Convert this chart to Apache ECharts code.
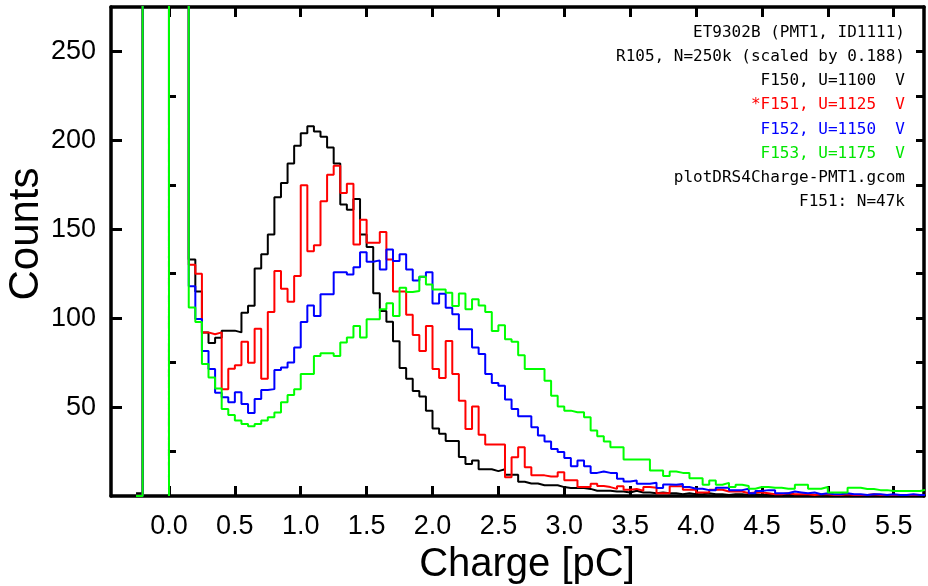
<!DOCTYPE html>
<html>
<head>
<meta charset="utf-8">
<script src="https://cdn.jsdelivr.net/npm/echarts@6/dist/echarts.min.js"></script>
<style>html,body{margin:0;padding:0;background:#fff}#c{width:928px;height:586px}</style>
</head>
<body>
<div id="c"></div>
<script>
// ---- data ----
const binStart = 0.15;     // lower edge of first regular bin [pC]
const binWidth = 0.05;     // bin width [pC]
const offScale = 3000;     // pedestal counts (far above the axis, clipped)
const pedEdges = [-0.25, -0.2, 0.0, 0.0, 0.15];
const pedF150 = [1.5, offScale, 0, offScale];
const pedF151 = [0, offScale, 0, offScale];
const pedF152 = [0, offScale, 0, offScale];
const pedF153 = [0, offScale, 0, offScale];

const f150 = [133,115,92,86,89,93,93,92,103,107,128,136,147,168,176,187,197,204,208,205,
  202,196,187,164,161,167,147,140,114,104,98,87,72,66,59,56,48,38,35,31,
  31,22,18,20,15,15,14,15,12,12,8,7,7,6,6,6,5,4.5,4.5,4.5,
  4,3,3,3,2.5,2.5,2,3,2,2,1.5,2,1.5,1.5,1,1.5,1,1,1.5,1,
  1,0.5,1,1,0.5,1,0.5,0.5,1,0.5,0.5,0.5,0.5,1,0.5,0.5,0.5,0.5,0.5,0.5,
  0.5,0.5,0.5,0.5,0.5,0.5,0.5,0.5,0.5,0.5,0.5,0.5];
const f151 = [130,125,92,91,92,60,71.5,73.6,86.7,75,94,66,103.5,126.5,116.6,109.3,123.7,174.7,137.7,141,
  165.7,180.7,185.7,170.4,175.6,141.4,155.4,142.4,142.4,148.5,133,115,115,102,90.5,81.6,95.6,71.4,66.3,87.2,
  68.6,53.6,37.7,50.4,34.5,29,29,29,10.6,21.8,27.4,16.2,11.6,11.6,11,11,13.4,8.8,8.8,5,
  5,6.9,5.6,5,4,5.5,3.5,4,3,5,4.6,1.5,1.5,5.5,5.5,3.5,3.5,2,2,3.5,
  3.5,2.5,2.5,2.5,1.5,2,2,1.5,1,1,1.5,1,1,1,0.5,1,1,0.5,0.5,1,
  0.5,0.5,0.5,1,0.5,0.5,0.5,0.5,0.5,0.5,0.5,0.5];
const f152 = [118,99.6,81.6,71.4,58,55.5,52.7,58.3,51.7,46.7,54.5,59.6,60.1,70.8,72.3,75.1,83.5,97.9,107.2,101.2,
  113.4,113.4,125.9,125.9,124.6,128.7,137.1,131.7,132.5,127.4,138.6,132.1,136,127.4,121.2,123.3,125.9,108.2,113.8,105.9,
  102.2,93.8,93.8,83.5,79.8,68.6,63.5,62,54.2,48.9,44.8,44.8,38.7,34,30.6,26.5,24.7,21.3,16.8,20,
  16.8,13,13.8,13,13,9.7,8.2,8.7,6.9,6.9,7.5,4.5,6.5,6.3,6.8,5.1,4.1,4.1,3.3,3.3,
  4.6,4.6,3.3,3.3,4.1,1.5,2.8,3.3,3.3,1.5,1.5,2.5,2,1.5,2,1,1.5,1,1,1.5,
  1,1,0.5,1,1,0.5,1,0.5,0.5,1,0.5,0.5];
const f153 = [106,97.9,74.2,66.7,60.5,48.9,45.6,42.4,40.5,39.2,40.5,42.4,44.3,47,52.7,56.8,60.1,68.6,68.6,78.8,
  80.3,80.3,78.8,86.3,89.1,95.6,89.1,99.4,99.4,105,108.4,101.2,117.1,114.7,115.3,123.3,119,116.2,116.2,114.3,
  106.8,113.9,105,110.6,107.2,103.5,92.8,96,88.2,86.7,79.2,71.4,71.4,71.4,64.8,56.4,50.4,48,47.1,47.1,
  44.3,36.8,33.6,30.6,27.4,27.4,20.5,20.5,20.5,20.5,14.4,14.4,11.2,13.8,13,13,10,10,6.3,8.7,
  6.3,7.4,5.1,6.3,5.6,4.1,5.1,5.1,4.6,4.6,4.1,4.1,6.3,6.3,4.1,4.1,5.1,1.9,1.9,1.9,
  4.6,4.6,3.9,3.9,3.3,3.3,2.8,2.8,2.8,2.8,2.8,3.5];

const xTicks = [0,0.5,1,1.5,2,2.5,3,3.5,4,4.5,5,5.5];
const yLabels = [50,100,150,200,250];
const yMinor = [25,75,125,175,225];
const yAll = [25,50,75,100,125,150,175,200,225,250];

const legendLines = [
  ['ET9302B (PMT1, ID1111)', '#000000'],
  ['R105, N=250k (scaled by 0.188)', '#000000'],
  ['F150, U=1100  V', '#000000'],
  ['*F151, U=1125  V', '#ff0000'],
  ['F152, U=1150  V', '#0000ff'],
  ['F153, U=1175  V', '#00e600'],
  ['plotDRS4Charge-PMT1.gcom', '#000000'],
  ['F151: N=47k', '#000000']
];

// ---- build step outlines ----
function steps(ped, vals) {
  const pts = [];
  for (let i = 0; i < ped.length; i++) {
    pts.push([pedEdges[i], ped[i]], [pedEdges[i + 1], ped[i]]);
  }
  for (let k = 0; k < vals.length; k++) {
    const x0 = +(binStart + k * binWidth).toFixed(4);
    const x1 = +(binStart + (k + 1) * binWidth).toFixed(4);
    pts.push([x0, vals[k]], [x1, vals[k]]);
  }
  return pts;
}

const chart = echarts.init(document.getElementById('c'), null, {renderer: 'canvas'});
const FONT = 'Liberation Sans';
const lineSeries = (name, ped, vals, color) => ({
  name, type: 'line', data: steps(ped, vals), showSymbol: false, symbol: 'none',
  clip: true, lineStyle: {color, width: 2}, xAxisIndex: 0, yAxisIndex: 0, z: 2
});

const grid = {left: 111, right: 4, top: 7, bottom: 90};
const xBase = {type: 'value', min: -0.44, max: 5.73, splitLine: {show: false}};
const yBase = {type: 'value', min: 0, max: 275, splitLine: {show: false}};

chart.setOption({
  animation: false,
  backgroundColor: '#ffffff',
  grid,
  xAxis: [
    Object.assign({}, xBase, {
      position: 'bottom',
      axisLine: {show: true, onZero: false, lineStyle: {color: '#000', width: 3.5}},
      axisTick: {show: true, inside: true, length: 10, customValues: xTicks, lineStyle: {color: '#000', width: 3}},
      axisLabel: {show: true, customValues: xTicks, formatter: v => v.toFixed(1), fontFamily: FONT, fontSize: 27, color: '#000', margin: 17}
    }),
    Object.assign({}, xBase, {
      position: 'top',
      axisLine: {show: true, onZero: false, lineStyle: {color: '#000', width: 3.5}},
      axisTick: {show: true, inside: true, length: 10, customValues: xTicks, lineStyle: {color: '#000', width: 3}},
      axisLabel: {show: false}
    })
  ],
  yAxis: [
    Object.assign({}, yBase, {
      position: 'left',
      axisLine: {show: true, onZero: false, lineStyle: {color: '#000', width: 3.5}},
      axisTick: {show: true, inside: true, length: 11, customValues: yLabels, lineStyle: {color: '#000', width: 3}},
      axisLabel: {show: true, customValues: yLabels, fontFamily: FONT, fontSize: 27, color: '#000', margin: 15}
    }),
    Object.assign({}, yBase, {
      position: 'left',
      axisLine: {show: false},
      axisTick: {show: true, inside: true, length: 7, customValues: yMinor, lineStyle: {color: '#000', width: 3}},
      axisLabel: {show: false}
    }),
    Object.assign({}, yBase, {
      position: 'right',
      axisLine: {show: true, onZero: false, lineStyle: {color: '#000', width: 3.5}},
      axisTick: {show: true, inside: true, length: 8, customValues: yAll, lineStyle: {color: '#000', width: 3}},
      axisLabel: {show: false}
    })
  ],
  series: [
    lineSeries('F150', pedF150, f150, '#000000'),
    lineSeries('F151', pedF151, f151, '#ff0000'),
    lineSeries('F152', pedF152, f152, '#0000ff'),
    lineSeries('F153', pedF153, f153, '#00ff00')
  ],
  graphic: [
    {type: 'text', x: 26, y: 234, rotation: Math.PI / 2,
      style: {text: 'Counts', fontFamily: FONT, fontSize: 42, fill: '#000', align: 'center', verticalAlign: 'middle'}},
    {type: 'text', x: 527, y: 565,
      style: {text: 'Charge [pC]', fontFamily: FONT, fontSize: 40, fill: '#000', align: 'center', verticalAlign: 'middle'}}
  ].concat(legendLines.map((l, i) => ({
    type: 'text', x: 905, y: [32.5, 57, 81, 105.3, 129.7, 153.7, 178, 202][i], z: 10,
    style: {text: l[0], fill: l[1], fontFamily: 'DejaVu Sans Mono', fontSize: 16, align: 'right', verticalAlign: 'middle'}
  })))
});
</script>
</body>
</html>
